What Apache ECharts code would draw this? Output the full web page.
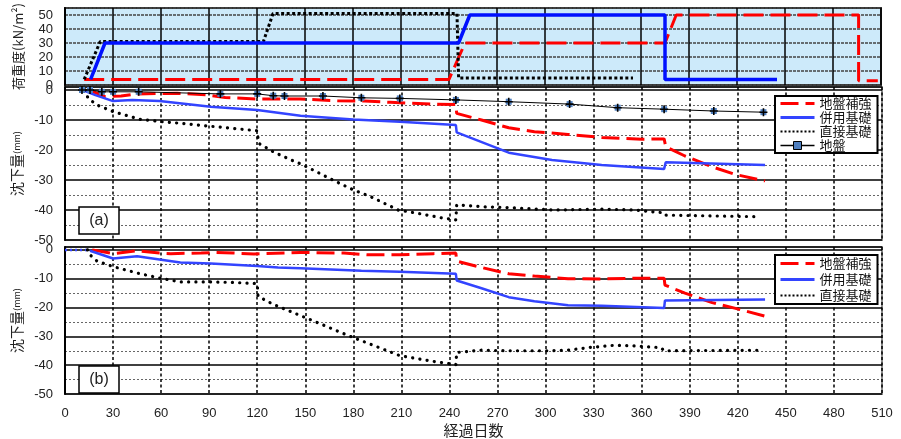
<!DOCTYPE html>
<html><head><meta charset="utf-8">
<script src="https://cdn.jsdelivr.net/npm/echarts@6/dist/echarts.min.js"></script>
<style>html,body{margin:0;padding:0;background:#fff}#c{width:901px;height:439px}</style>
</head><body><div id="c"></div>
<script>
// ---- data (day, value) ----
const legendNamesA = ['地盤補強','併用基礎','直接基礎','地盤'];
const legendNamesB = ['地盤補強','併用基礎','直接基礎'];
const panelLabels = ['(a)','(b)'];

// load (kN/m2)
const loadReinforce = [[12,4],[240,4],[250,30],[375,30],[382,50],[496,50],[496,3],[508,3]];
const loadCombined  = [[16,4],[25,30],[246,30],[253,50],[375,50],[375,4],[445,4]];
const loadDirect    = [[12,4],[22,31],[124,31],[130,51],[245,51],[246,5],[355,5]];

// settlement (a)
const aReinforce = [[15,0],[25,-2.2],[35,-2.0],[45,-1.3],[70,-1.1],[88,-1.6],[100,-2.5],[120,-3.0],[147,-3.0],[170,-3.6],[187,-3.7],[203,-4.1],[215,-4.4],[231,-4.7],[244,-4.8],[244.5,-7.8],[260,-10],[277,-12.6],[293,-13.9],[314,-14.8],[335,-15.8],[360,-16.4],[374,-16.3],[375,-18.9],[387,-22],[404,-25.6],[418,-28.1],[437,-30.3]];
const aCombined = [[11,0],[19,-1.7],[30,-3.7],[42,-3.3],[59,-3.7],[91,-5.6],[120,-6.7],[147,-8.6],[180,-9.8],[209,-10.6],[244,-11.7],[244.5,-14.1],[277,-20.9],[304,-23.3],[335,-25],[374,-26.3],[375,-24.1],[437,-25]];
const aDirect = [[12.5,0],[14.4,-2.8],[20,-5],[30,-7.2],[47,-9.8],[61,-10.6],[72,-11.1],[89,-12],[105,-12.8],[120,-13.6],[120.5,-16.1],[121,-17.8],[130,-20.6],[141,-23.3],[147,-24.6],[155,-26.7],[166,-29.7],[180,-33.3],[191,-35.6],[208,-40],[220,-41.1],[235,-42.6],[244,-43.3],[244.5,-38.3],[260,-38.9],[277,-39.2],[305,-40],[335,-39.7],[355,-40],[373,-40.9],[374,-41.7],[430,-42.2]];
const aGround = [[10.6,0],[15.6,0],[23,-0.6],[30,-0.6],[46,-0.6],[97,-1.3],[120,-1.3],[130,-1.9],[137,-2],[161,-2],[185,-2.6],[209,-2.8],[244,-3.3],[277,-3.9],[315,-4.7],[345,-5.9],[374,-6.4],[405,-7],[436,-7.4]];

// settlement (b)
const bInitial = [[0,0],[14,0]];
const bReinforce = [[17,0],[30,-1.3],[45,-0.3],[59,-1.1],[66,-1.3],[85,-1.1],[93,-0.9],[105,-1.1],[118,-1.4],[147,-0.9],[174,-1.1],[189,-1.7],[209,-1.7],[230,-1.3],[244,-1.1],[244.5,-3.9],[260,-6.1],[277,-8.3],[293,-9.1],[314,-10],[335,-10.1],[360,-9.8],[374,-9.8],[374.5,-12.2],[387,-15],[404,-18.3],[418,-20.2],[437,-23]];
const bCombined = [[15.6,-0.3],[30,-3],[45,-2.2],[59,-3.3],[72,-4.4],[91,-4.7],[120,-5.6],[133,-6.1],[147,-6.4],[185,-7.2],[209,-7.6],[244,-8.3],[244.5,-10.6],[260,-13.3],[277,-16.4],[293,-17.8],[314,-19.2],[335,-19.4],[374,-20.2],[374.5,-17.6],[437,-17.2]];
const bDirect = [[14,0],[14.4,-1.1],[20,-3.9],[30,-5.8],[47,-8.3],[61,-10],[72,-11.1],[89,-11.1],[105,-11.3],[120,-11.7],[120.5,-16.1],[130,-18.9],[147,-22.8],[160,-25.8],[178,-30],[191,-32.8],[209,-36.7],[230,-38.7],[244,-39.8],[244.5,-35.6],[260,-34.8],[277,-35],[302,-35],[314,-34.8],[327,-33.9],[343,-33.1],[355,-33.3],[372,-33.9],[374,-35],[436,-34.8]];

// ---- styles ----
const FONT = 'Liberation Sans, Arial, sans-serif';
const JFONT = 'Noto Sans CJK JP, sans-serif';
const RED = '#ff0000', BLUE = '#3344ff', BLUE_TOP = '#0010ff';
const PLUS = 'path://M4,0H6V4H10V6H6V10H4V6H0V4H4Z';

function line(name, data, xi, style, extra) {
  return Object.assign({
    type: 'line', name: name, data: data, xAxisIndex: xi, yAxisIndex: xi,
    symbol: 'none', silent: true, animation: false, lineStyle: style,
    itemStyle: { color: style.color }
  }, extra || {});
}
const redStyle = { color: RED, width: 3, type: [18, 7] };
const blueStyle = { color: BLUE, width: 2.5, type: 'solid' };
const dotStyle = { color: '#000', width: 3.2, type: [0.1, 7.2], cap: 'round' };

const series = [
  line('荷重-地盤補強', loadReinforce, 0, { color: RED, width: 3, type: [20, 7] }),
  line('荷重-直接基礎', loadDirect, 0, { color: '#000', width: 3, type: [3, 2.5] }),
  line('荷重-併用基礎', loadCombined, 0, { color: BLUE_TOP, width: 3.5, type: 'solid' }),

  line('地盤補強', aReinforce, 1, redStyle),
  line('併用基礎', aCombined, 1, blueStyle),
  line('直接基礎', aDirect, 1, dotStyle),
  line('地盤', aGround, 1, { color: '#000', width: 1 }, {
    symbol: 'rect', symbolSize: 6, showSymbol: true,
    itemStyle: { color: '#4f7fbf' }
  }),
  line('地盤+', aGround, 1, { color: '#000', width: 0, opacity: 0 }, {
    symbol: PLUS, symbolSize: 8, showSymbol: true, itemStyle: { color: '#000' }
  }),

  line('b-初期', bInitial, 2, { color: BLUE, width: 2.5, type: [2, 3] }),
  line('地盤補強', bReinforce, 2, redStyle),
  line('併用基礎', bCombined, 2, blueStyle),
  line('直接基礎', bDirect, 2, dotStyle)
];

const grids = [
  { left: 65, right: 20, top: 8, height: 77, show: true, backgroundColor: '#cdeafa', borderColor: '#333', borderWidth: 2 },
  { left: 65, right: 19, top: 87, height: 153, show: true, backgroundColor: '#fff', borderColor: '#8a8a8a', borderWidth: 2 },
  { left: 65, right: 19, top: 247, height: 153, show: true, backgroundColor: '#fff', borderColor: '#8a8a8a', borderWidth: 2 }
];

function xAxis(i) {
  return {
    type: 'value', gridIndex: i, min: 0, max: 510, interval: 30,
    axisLine: { show: false }, axisTick: { show: false },
    axisLabel: { show: i === 2, fontSize: 13, color: '#222', fontFamily: FONT, margin: 13 },
    splitLine: { show: true, lineStyle: i === 0 ? { color: '#000', width: 1.5 } : { color: '#000', width: 1.5, type: [3, 2.5] } },
    name: i === 2 ? '経過日数' : '', nameLocation: 'middle', nameGap: 29,
    nameTextStyle: { fontSize: 15, color: '#222', fontFamily: JFONT }
  };
}
function yAxis(i) {
  const top = i === 0;
  return {
    type: 'value', gridIndex: i,
    min: top ? 0 : -50, max: top ? 55 : 1, interval: 10,
    axisLine: { show: true, lineStyle: { color: '#000', width: 2 } },
    axisTick: { show: false },
    axisLabel: { fontSize: 13, color: '#222', fontFamily: FONT, margin: 12, showMaxLabel: false },
    splitLine: { show: true, lineStyle: top ? { color: '#444', width: 1.5, type: [3, 1] } : { color: '#000', width: 1.5 } },
    minorTick: { show: false, splitNumber: 2 },
    minorSplitLine: { show: !top, lineStyle: { color: '#666', width: 1, type: [2, 2] } },
    name: top ? '荷重度(kN/m²)' : '{a|沈下量}{b|(mm)}',
    nameLocation: 'middle', nameGap: 40, nameRotate: 90,
    nameTextStyle: { fontSize: 13, color: '#222', fontFamily: JFONT,
      rich: { a: { fontSize: 14, fontFamily: JFONT, color: '#222' }, b: { fontSize: 9, fontFamily: JFONT, color: '#222' } } }
  };
}

const legendCommon = {
  orient: 'vertical', itemWidth: 34, itemHeight: 10, selectedMode: false,
  borderColor: '#000', borderWidth: 2, backgroundColor: '#fff', borderRadius: 0,
  textStyle: { fontSize: 13, color: '#111', fontFamily: JFONT }
};
const hideSym = { opacity: 0 };
const legendLines = {
  '地盤補強': { color: RED, width: 3, type: [18, 7], cap: 'butt' },
  '併用基礎': { color: BLUE, width: 3, type: 'solid' },
  '直接基礎': { color: '#000', width: 2, type: [2, 2], cap: 'butt' }
};
function legendData(names) {
  return names.map(function (n) {
    if (n === '地盤') return { name: n, itemStyle: { color: '#4f7fbf', borderColor: '#000', borderWidth: 1 }, lineStyle: { color: '#000', width: 1.5, type: 'solid' } };
    return { name: n, itemStyle: hideSym, lineStyle: legendLines[n] };
  });
}

function panelBox(label, y) {
  return [
    { type: 'rect', z: 10, shape: { x: 79, y: y, width: 40, height: 27 }, style: { fill: '#fff', stroke: '#000', lineWidth: 1.5 } },
    { type: 'text', z: 11, x: 99, y: y + 14, style: { text: label, fontSize: 16, fontFamily: FONT, fill: '#222', align: 'center', verticalAlign: 'middle' } }
  ];
}

const option = {
  animation: false,
  textStyle: { fontFamily: FONT },
  grid: grids,
  xAxis: [xAxis(0), xAxis(1), xAxis(2)],
  yAxis: [yAxis(0), yAxis(1), yAxis(2)],
  legend: [
    Object.assign({}, legendCommon, { data: legendData(legendNamesA), left: 775, top: 96, itemGap: 1, padding: [1, 6, 1, 4] }),
    Object.assign({}, legendCommon, { data: legendData(legendNamesB), left: 775, top: 255, itemGap: 3, padding: [2, 6, 2, 4] })
  ],
  graphic: panelBox(panelLabels[0], 207).concat(panelBox(panelLabels[1], 366)),
  series: series
};

const chart = echarts.init(document.getElementById('c'), null, { renderer: 'canvas' });
chart.setOption(option);
</script>
</body></html>
